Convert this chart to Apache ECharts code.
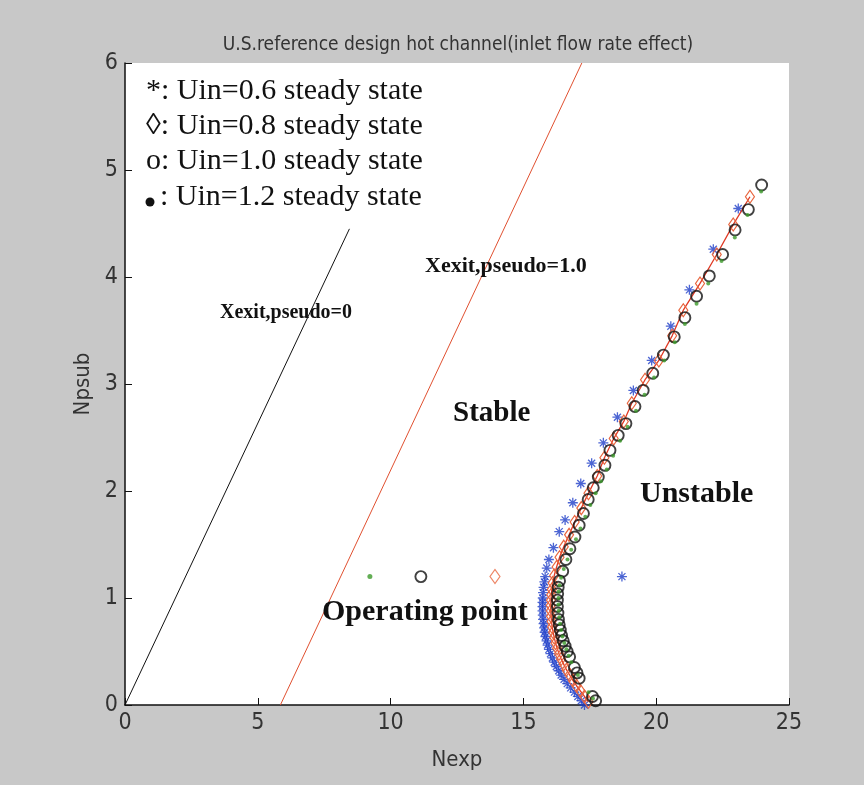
<!DOCTYPE html>
<html>
<head>
<meta charset="utf-8">
<script src="https://cdn.jsdelivr.net/npm/echarts@6/dist/echarts.min.js"></script>
<style>
  html, body { margin: 0; padding: 0; background: #c8c8c8; }
  #chart { width: 864px; height: 785px; }
</style>
</head>
<body>
<div id="chart"></div>
<script>
// Axis tick values
const xTicks = [0, 5, 10, 15, 20, 25];
const yTicks = [0, 1, 2, 3, 4, 5, 6];

// Constant-exit-quality boundaries [Nexp, Npsub]
const xexitZero = [[0, 0], [8.45, 4.45]];
const xexitOne = [[5.85, 0], [17.2, 6.0]];

// Steady-state locus, Uin = 0.6 (stars)
const uin06 = [
  [17.30, 0.00], [17.18, 0.04], [17.05, 0.08], [16.92, 0.12], [16.78, 0.16],
  [16.65, 0.20], [16.53, 0.24], [16.42, 0.28], [16.33, 0.32], [16.24, 0.36],
  [16.16, 0.40], [16.09, 0.44], [16.02, 0.48], [15.96, 0.52], [15.91, 0.56],
  [15.87, 0.60], [15.83, 0.64], [15.80, 0.68], [15.78, 0.72], [15.76, 0.76],
  [15.74, 0.80], [15.73, 0.84], [15.72, 0.88], [15.72, 0.92], [15.72, 0.96],
  [15.73, 1.00], [15.74, 1.05], [15.76, 1.10], [15.79, 1.15], [15.82, 1.20],
  [15.88, 1.28], [15.96, 1.36], [16.13, 1.47], [16.35, 1.62], [16.57, 1.73],
  [16.86, 1.89], [17.16, 2.07], [17.57, 2.26], [18.01, 2.45], [18.54, 2.69],
  [19.14, 2.94], [19.83, 3.22], [20.55, 3.54], [21.25, 3.88], [22.15, 4.26],
  [23.09, 4.64]
];

// Steady-state locus, Uin = 0.8 (diamonds)
const uin08 = [
  [17.45, 0.03], [17.30, 0.08], [17.15, 0.13], [17.00, 0.18], [16.86, 0.23],
  [16.74, 0.28], [16.62, 0.33], [16.52, 0.38], [16.42, 0.43], [16.34, 0.48],
  [16.27, 0.53], [16.21, 0.58], [16.16, 0.63], [16.12, 0.68], [16.08, 0.73],
  [16.06, 0.78], [16.04, 0.83], [16.03, 0.88], [16.03, 0.93], [16.04, 0.98],
  [16.05, 1.03], [16.07, 1.08], [16.10, 1.14], [16.16, 1.21], [16.25, 1.29],
  [16.36, 1.38], [16.52, 1.48], [16.72, 1.59], [16.93, 1.71], [17.18, 1.84],
  [17.45, 1.98], [17.78, 2.14], [18.05, 2.31], [18.40, 2.49], [18.78, 2.65],
  [19.08, 2.82], [19.58, 3.04], [20.10, 3.22], [20.60, 3.45], [21.02, 3.69],
  [21.65, 3.94], [22.28, 4.21], [22.90, 4.49], [23.53, 4.75]
];

// Steady-state locus, Uin = 1.0 (circles)
const uin10 = [
  [17.72, 0.04], [17.60, 0.08], [17.10, 0.25], [17.02, 0.30], [16.92, 0.35],
  [16.74, 0.45], [16.65, 0.50], [16.57, 0.55], [16.50, 0.60], [16.44, 0.65],
  [16.39, 0.70], [16.35, 0.75], [16.32, 0.80], [16.30, 0.86], [16.28, 0.92],
  [16.28, 0.98], [16.29, 1.04], [16.31, 1.10], [16.36, 1.16], [16.48, 1.25],
  [16.60, 1.36], [16.75, 1.46], [16.94, 1.57], [17.10, 1.68], [17.26, 1.79],
  [17.44, 1.92], [17.63, 2.03], [17.82, 2.13], [18.07, 2.24], [18.26, 2.38],
  [18.57, 2.52], [18.86, 2.63], [19.20, 2.79], [19.51, 2.94], [19.87, 3.10],
  [20.27, 3.27], [20.68, 3.44], [21.08, 3.62], [21.52, 3.82], [22.00, 4.01],
  [22.50, 4.21], [22.97, 4.44], [23.47, 4.63], [23.97, 4.86]
];

// Steady-state locus, Uin = 1.2 (dots)
const uin12 = [
  [17.62, 0.06], [17.45, 0.12], [17.05, 0.28], [16.80, 0.40], [16.70, 0.46],
  [16.62, 0.52], [16.54, 0.58], [16.47, 0.64], [16.42, 0.70], [16.38, 0.76],
  [16.35, 0.82], [16.33, 0.88], [16.32, 0.94], [16.32, 1.00], [16.33, 1.06],
  [16.36, 1.12], [16.42, 1.19], [16.52, 1.27], [16.66, 1.36], [16.80, 1.45],
  [16.98, 1.55], [17.15, 1.65], [17.33, 1.76], [17.52, 1.87], [17.72, 1.98],
  [17.92, 2.09], [18.14, 2.20], [18.38, 2.33], [18.64, 2.47], [18.92, 2.60],
  [19.24, 2.75], [19.56, 2.90], [19.92, 3.06], [20.30, 3.22], [20.70, 3.39],
  [21.08, 3.56], [21.52, 3.75], [21.96, 3.94], [22.46, 4.15], [22.96, 4.37],
  [23.44, 4.58], [23.95, 4.80]
];

// Operating points (Npsub = 1.2) for each inlet velocity
const opUin06 = [[18.71, 1.2]];
const opUin08 = [[13.93, 1.2]];
const opUin10 = [[11.14, 1.2]];
const opUin12 = [[9.22, 1.2]];

const legendLines = [
  '*: Uin=0.6 steady state',
  '\u25CA: Uin=0.8 steady state',
  'o: Uin=1.0 steady state',
  ': Uin=1.2 steady state'
];

const STAR = 'path://M0,-10L0,10M-10,0L10,0M-7,-7L7,7M-7,7L7,-7';
const narrow = "'Liberation Sans Narrow', 'Arial Narrow', 'DejaVu Sans Condensed', sans-serif";
const serif = "'Liberation Serif', 'Times New Roman', serif";

const starStyle = { color: 'transparent', borderColor: '#1f3fc8', borderWidth: 1.3 };
const diamondStyle = { color: 'transparent', borderColor: '#e8663f', borderWidth: 1.2 };
const circleStyle = { color: 'transparent', borderColor: '#111111', borderWidth: 1.9 };
const dotStyle = { color: '#3c9a2a' };

const chart = echarts.init(document.getElementById('chart'), null, { renderer: 'canvas' });

// Region labels: [text, left x, centre y, font size]
const annotations = [
  ['Xexit,pseudo=0', 220, 313, 20],
  ['Xexit,pseudo=1.0', 425, 266, 22],
  ['Stable', 453, 414, 29],
  ['Unstable', 640, 494, 30],
  ['Operating point', 322, 612, 30]
];

const graphic = [];
legendLines.forEach((t, i) => {
  graphic.push({
    type: 'text', x: i === 3 ? 160 : 146, y: 91 + i * 35.3, z: 100,
    style: { text: t, font: '30px ' + serif, fill: '#111', verticalAlign: 'middle' }
  });
});
graphic.push({ type: 'circle', shape: { cx: 150, cy: 202, r: 4.5 }, style: { fill: '#111' }, z: 100 });
annotations.forEach(a => {
  graphic.push({
    type: 'text', x: a[1], y: a[2], z: 100,
    style: { text: a[0], font: 'bold ' + a[3] + 'px ' + serif, fill: '#111', verticalAlign: 'middle' }
  });
});

chart.setOption({
  backgroundColor: '#c8c8c8',
  animation: false,
  title: {
    text: 'U.S.reference design hot channel(inlet flow rate effect)',
    left: 453, top: 31, textAlign: 'center',
    textStyle: { fontFamily: narrow, fontSize: 19, fontWeight: 'normal', color: '#333' }
  },
  grid: { left: 125, right: 75, top: 63, bottom: 80, show: true, backgroundColor: '#ffffff', borderWidth: 0 },
  xAxis: {
    type: 'value', min: 0, max: 25, interval: 5,
    name: 'Nexp', nameLocation: 'middle', nameGap: 44,
    nameTextStyle: { fontFamily: narrow, fontSize: 22, color: '#333' },
    axisLine: { show: true, lineStyle: { color: '#111', width: 1.5 } },
    axisTick: { show: true, inside: true, length: 7, lineStyle: { color: '#111' } },
    axisLabel: { fontFamily: narrow, fontSize: 23, color: '#333', margin: 7,
      formatter: v => xTicks.includes(v) ? String(v) : '' },
    splitLine: { show: false }
  },
  yAxis: {
    type: 'value', min: 0, max: 6, interval: 1,
    name: 'Npsub', nameLocation: 'middle', nameGap: 20, nameRotate: 90,
    nameTextStyle: { fontFamily: narrow, fontSize: 22, color: '#333' },
    axisLine: { show: true, lineStyle: { color: '#111', width: 1.5 } },
    axisTick: { show: true, inside: true, length: 7, lineStyle: { color: '#111' } },
    axisLabel: { fontFamily: narrow, fontSize: 23, color: '#333', margin: 7,
      formatter: v => yTicks.includes(v) ? String(v) : '' },
    splitLine: { show: false }
  },
  graphic: graphic,
  series: [
    { type: 'line', data: xexitZero, symbol: 'none', lineStyle: { color: '#111', width: 1 }, z: 2 },
    { type: 'line', data: xexitOne, symbol: 'none', lineStyle: { color: '#e05030', width: 1 }, z: 2 },
    { type: 'scatter', data: uin06, symbol: STAR, symbolSize: 10, itemStyle: starStyle, z: 3 },
    { type: 'line', data: uin08, symbol: 'diamond', symbolSize: [9, 13], showAllSymbol: true,
      lineStyle: { color: '#e03a25', width: 1.3 }, itemStyle: diamondStyle, z: 4 },
    { type: 'scatter', data: uin10, symbol: 'circle', symbolSize: 11, itemStyle: circleStyle, z: 5 },
    { type: 'scatter', data: uin12, symbol: 'circle', symbolSize: 4, itemStyle: dotStyle, z: 6 },
    { type: 'scatter', data: opUin06, symbol: STAR, symbolSize: 10, itemStyle: starStyle, z: 3 },
    { type: 'scatter', data: opUin08, symbol: 'diamond', symbolSize: [10, 14], itemStyle: diamondStyle, z: 4 },
    { type: 'scatter', data: opUin10, symbol: 'circle', symbolSize: 11, itemStyle: circleStyle, z: 5 },
    { type: 'scatter', data: opUin12, symbol: 'circle', symbolSize: 5, itemStyle: dotStyle, z: 6 }
  ]
});
</script>
</body>
</html>
